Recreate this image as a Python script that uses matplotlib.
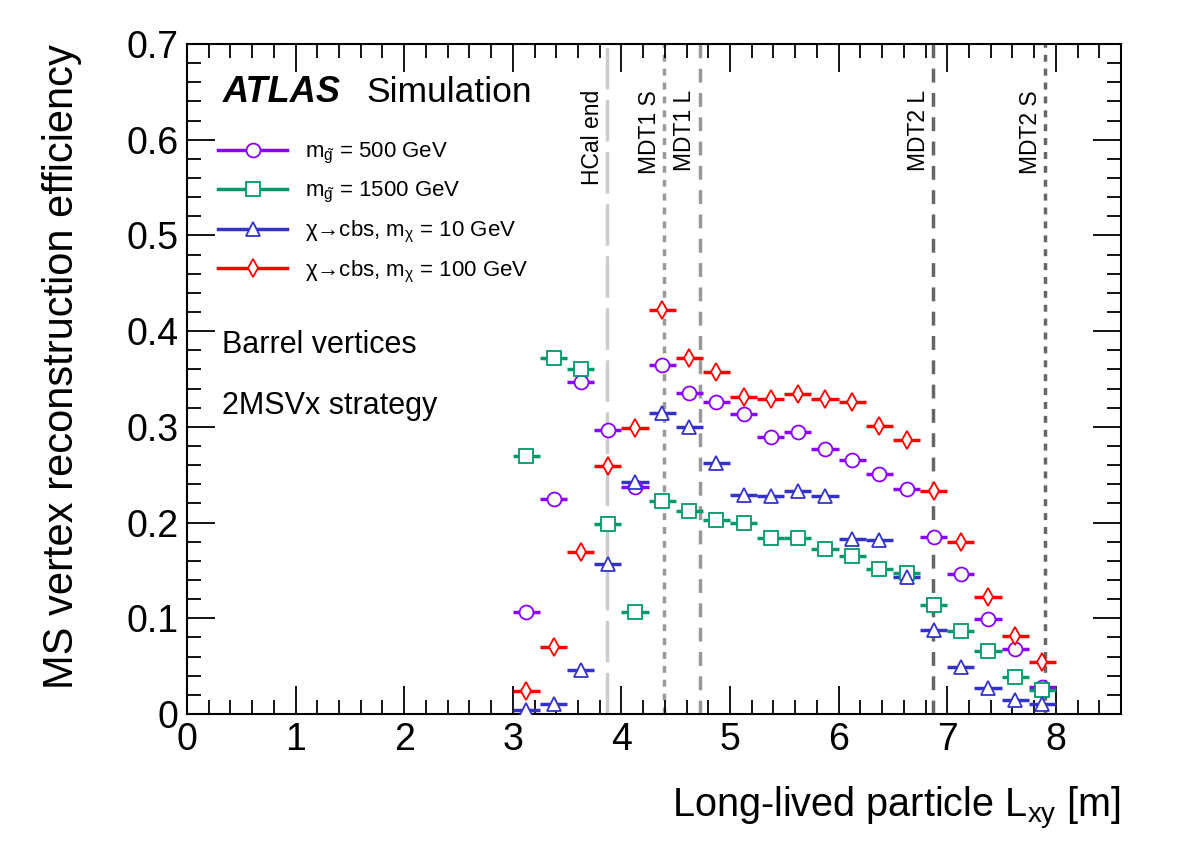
import matplotlib
matplotlib.use("Agg")
import matplotlib.pyplot as plt
from matplotlib.lines import Line2D
from matplotlib.ticker import MultipleLocator
import numpy as np

plt.rcParams['font.family'] = ['Liberation Sans', 'DejaVu Sans']
plt.rcParams['mathtext.fontset'] = 'custom'
plt.rcParams['mathtext.rm'] = 'Liberation Sans'
plt.rcParams['mathtext.it'] = 'Liberation Sans:italic'

# bin centres of Lxy [m], bin width 0.25 m
lxy = np.arange(3.125, 8.0, 0.25)
bin_half = 0.125

eff_gluino500 = [0.107, 0.225, 0.347, 0.297, 0.237, 0.365, 0.335, 0.326, 0.313, 0.289,
                 0.295, 0.277, 0.265, 0.251, 0.235, 0.185, 0.146, 0.099, 0.068, 0.028]
eff_gluino1500 = [0.270, 0.372, 0.360, 0.198, 0.107, 0.223, 0.212, 0.203, 0.200, 0.184,
                  0.184, 0.172, 0.165, 0.152, 0.147, 0.114, 0.087, 0.066, 0.039, 0.025]
eff_chi10 = [0.004, 0.010, 0.046, 0.157, 0.242, 0.315, 0.300, 0.262, 0.229, 0.228,
             0.233, 0.228, 0.183, 0.182, 0.143, 0.088, 0.049, 0.027, 0.015, 0.010]
eff_chi100 = [0.024, 0.070, 0.169, 0.259, 0.299, 0.422, 0.372, 0.357, 0.331, 0.329,
              0.334, 0.329, 0.326, 0.301, 0.286, 0.233, 0.180, 0.122, 0.081, 0.054]

labels = [r"m$_{\tilde{\mathrm{g}}}$ = 500 GeV",
          r"m$_{\tilde{\mathrm{g}}}$ = 1500 GeV",
          r"χ→cbs, m$_{\mathrm{\chi}}$ = 10 GeV",
          r"χ→cbs, m$_{\mathrm{\chi}}$ = 100 GeV"]
colors = ['#8c00ff', '#00996b', '#3333cc', '#ff0000']
markers = ['o', 's', '^', 'd']
msizes = [10, 10, 10, 9]

# detector boundaries
det_names = ['HCal end', 'MDT1 S', 'MDT1 L', 'MDT2 L', 'MDT2 S']
det_pos = [3.87, 4.39, 4.72, 6.87, 7.90]
det_colors = ['#cccccc', '#999999', '#999999', '#666666', '#666666']
det_dash = [(12, 3), (2, 2), (4, 3), (4, 3), (2, 2)]

fig = plt.figure(figsize=(11.82, 8.5), dpi=100)
ax = fig.add_axes([0.1582, 0.16, 0.7902, 0.7882])

for x, c, d in zip(det_pos, det_colors, det_dash):
    ax.axvline(x, color=c, lw=2.5, dashes=d, zorder=1)
for name, x in zip(det_names, det_pos):
    ax.text(x - 0.03, 0.652, name, rotation=90, ha='right', va='top', fontsize=16.5)

series = [eff_gluino500, eff_gluino1500, eff_chi10, eff_chi100]
handles = []
for y, c, m, ms in zip(series, colors, markers, msizes):
    ax.errorbar(lxy, y, xerr=bin_half, fmt=m, color=c, ms=ms, mfc='white', mec=c,
                mew=1.3, elinewidth=2.5, capsize=0, zorder=3)
    handles.append(Line2D([], [], color=c, lw=2.5, marker=m, ms=ms, mfc='white', mec=c, mew=1.3))

ax.legend(handles, labels, loc='upper left', bbox_to_anchor=(0.012, 0.885), frameon=False,
          fontsize=16, handlelength=3.1, handletextpad=0.8, labelspacing=0.62)

ax.set_xlim(0, 8.6)
ax.set_ylim(0, 0.7)
ax.xaxis.set_major_locator(MultipleLocator(1))
ax.xaxis.set_minor_locator(MultipleLocator(0.2))
ax.yaxis.set_major_locator(MultipleLocator(0.1))
ax.yaxis.set_minor_locator(MultipleLocator(0.02))
ax.set_yticks(np.arange(0, 0.71, 0.1))
ax.set_yticklabels(['0', '0.1', '0.2', '0.3', '0.4', '0.5', '0.6', '0.7'])
ax.tick_params(which='both', direction='in', top=True, right=True, width=1.3)
ax.tick_params(which='major', length=20, labelsize=27, pad=6)
ax.tick_params(which='minor', length=10)
for s in ax.spines.values():
    s.set_linewidth(1.5)

ax.set_xlabel(r"Long-lived particle L$_{\mathrm{xy}}$ [m]", fontsize=28.5, loc='right', labelpad=19)
ax.set_ylabel("MS vertex reconstruction efficiency", fontsize=30, loc='top', labelpad=32)

ax.text(0.038, 0.928, "ATLAS", transform=ax.transAxes, fontsize=26, fontweight='bold',
        fontstyle='italic', va='center')
ax.text(0.1917, 0.928, "Simulation", transform=ax.transAxes, fontsize=25.5, va='center')
ax.text(0.038, 0.551, "Barrel vertices", transform=ax.transAxes, fontsize=22, va='center')
ax.text(0.038, 0.460, "2MSVx strategy", transform=ax.transAxes, fontsize=22, va='center')

fig.savefig("out.png", dpi=100)
